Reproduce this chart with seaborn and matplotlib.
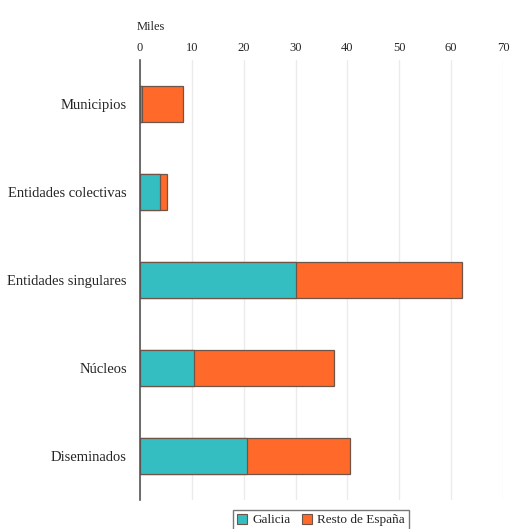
import numpy as np
import pandas as pd
import seaborn as sns
import matplotlib.pyplot as plt

# ======================
# Data (miles)
# ======================

categories = [
    "Municipios",
    "Entidades colectivas",
    "Entidades singulares",
    "Núcleos",
    "Diseminados"
]

galicia = [0.3, 3.9, 30.1, 10.5, 20.7]
resto = [8.0, 1.3, 32.0, 27.0, 19.8]

x_ticks = [0, 10, 20, 30, 40, 50, 60, 70]

df = pd.DataFrame({
    "categoria": categories,
    "Galicia": galicia,
    "Resto": resto
})
df["total"] = df["Galicia"] + df["Resto"]

# ======================
# Style
# ======================

sns.set_theme(style="white")
plt.rcParams['font.family'] = ['Liberation Serif', 'DejaVu Serif']

cyan = "#35BEC2"
orange = "#FF6A2B"
edge = "#6e5548"

fig = plt.figure(figsize=(5.12, 5.29), dpi=100)
ax = fig.add_axes([0.2734, 0.0548, 0.709, 0.832])

sns.barplot(
    data=df,
    y="categoria",
    x="total",
    orient="h",
    color=orange,
    saturation=1,
    width=0.41,
    edgecolor=edge,
    linewidth=0.9,
    ax=ax
)

sns.barplot(
    data=df,
    y="categoria",
    x="Galicia",
    orient="h",
    color=cyan,
    saturation=1,
    width=0.41,
    edgecolor=edge,
    linewidth=0.9,
    ax=ax
)

ax.set_xlim(0, 70)
ax.set_ylim(4.5, -0.5)
ax.set_xticks(x_ticks)
ax.set_xticklabels([str(t) for t in x_ticks])
ax.xaxis.tick_top()
ax.tick_params(axis="x", length=0, labelsize=9, pad=4)
ax.tick_params(axis="y", length=0, labelsize=10.5, pad=9.5)
ax.set_xlabel("")
ax.set_ylabel("")

ax.grid(axis="x", color="#ebebeb", linewidth=1)
ax.set_axisbelow(True)

for s in ["top", "right", "bottom"]:
    ax.spines[s].set_visible(False)
ax.spines["left"].set_color("#555555")
ax.spines["left"].set_linewidth(1.2)

fig.text(137 / 512, 1 - 27 / 529, "Miles", fontsize=9, va="center", ha="left")

handles = [
    plt.Rectangle((0, 0), 1, 1, facecolor=cyan, edgecolor=edge, linewidth=0.8),
    plt.Rectangle((0, 0), 1, 1, facecolor=orange, edgecolor=edge, linewidth=0.8)
]
fig.legend(
    handles,
    ["Galicia", "Resto de España"],
    loc="center",
    bbox_to_anchor=(321 / 512, 1 - 520 / 529),
    ncol=2,
    fontsize=9.5,
    frameon=True,
    fancybox=False,
    edgecolor="#555555",
    handlelength=0.8,
    handleheight=0.8,
    handletextpad=0.4,
    columnspacing=0.8,
    borderpad=0.3
)

plt.savefig("out.png", dpi=100)
plt.close()
